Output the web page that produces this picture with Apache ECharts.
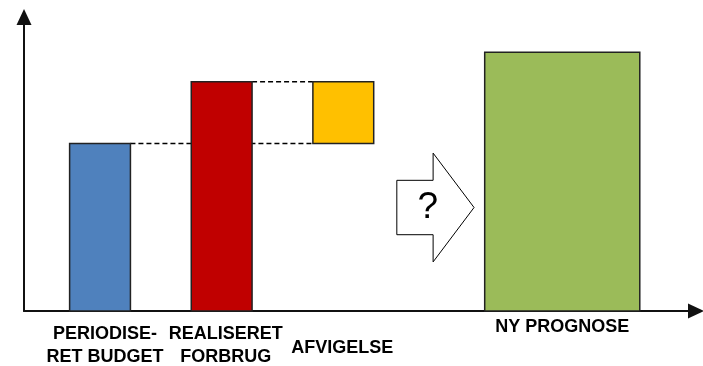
<!DOCTYPE html>
<html>
<head>
    <meta charset="utf-8">
    <script src="https://cdn.jsdelivr.net/npm/echarts@6/dist/echarts.min.js"></script>
</head>
<body style="margin:0">
    <div id="main" style="width:703px;height:366px;"></div>
    <script type="text/javascript">
        // data
        var categories = ['PERIODISE-\nRET BUDGET', 'REALISERET\nFORBRUG', 'AFVIGELSE', 'NY PROGNOSE'];
        var barCenter = [1.25, 3.25, 5.25, 8.85];
        var barWidth = [1, 1, 1, 2.55];
        var barLow = [0, 0, 57, 0];
        var barHigh = [57, 78, 78, 88];
        // dashed connectors: from bar -> to bar, at the "from" bar top
        var connFrom = [0, 1];
        var connTo = [2, 2];
        // "?" arrow: x start, x end, y low, y high
        var arrowBox = [6.13, 7.40, 16.7, 53.7];

        // style
        var barColors = ['#4F81BD', '#C00000', '#FFC000', '#9BBB59'];
        var labelDx = [5, 4, -1, 0];
        var labelDy = [35, 35, 37, 16];
        var font = 'Arial, "Liberation Sans", sans-serif';

        var myChart = echarts.init(document.getElementById('main'));

        var barData = [];
        for (var i = 0; i < categories.length; i++) {
            barData.push([barCenter[i], barWidth[i], barLow[i], barHigh[i]]);
        }
        var connData = [];
        for (var j = 0; j < connFrom.length; j++) {
            var a = connFrom[j], b = connTo[j];
            connData.push([barCenter[a] + barWidth[a] / 2, barCenter[b] - barWidth[b] / 2, barHigh[a]]);
        }

        function renderBar(params, api) {
            var i = params.dataIndex;
            var c = api.value(0), w = api.value(1);
            var p0 = api.coord([c - w / 2, api.value(3)]);
            var p1 = api.coord([c + w / 2, api.value(2)]);
            var base = api.coord([c, 0]);
            return {
                type: 'group',
                children: [{
                    type: 'rect',
                    shape: {x: p0[0], y: p0[1], width: p1[0] - p0[0], height: p1[1] - p0[1]},
                    style: {fill: barColors[i], stroke: '#222', lineWidth: 1.5}
                }, {
                    type: 'text',
                    x: base[0] + labelDx[i],
                    y: base[1] + labelDy[i],
                    style: {
                        text: categories[i],
                        align: 'center',
                        verticalAlign: 'middle',
                        font: 'bold 18px ' + font,
                        lineHeight: 23,
                        fill: '#000'
                    }
                }]
            };
        }

        function renderConn(params, api) {
            var p0 = api.coord([api.value(0), api.value(2)]);
            var p1 = api.coord([api.value(1), api.value(2)]);
            return {
                type: 'line',
                shape: {x1: p0[0], y1: p0[1], x2: p1[0], y2: p1[1]},
                style: {stroke: '#000', lineWidth: 1.5, lineDash: [5, 3]}
            };
        }

        function renderArrow(params, api) {
            var tl = api.coord([api.value(0), api.value(3)]);
            var br = api.coord([api.value(1), api.value(2)]);
            var x0 = tl[0], x1 = br[0], y0 = tl[1], y1 = br[1];
            var midY = (y0 + y1) / 2;
            var half = (y1 - y0) / 2;
            var bodyHalf = half * 0.5;
            var headX = x1 - (x1 - x0) * 0.53;
            return {
                type: 'group',
                children: [{
                    type: 'polygon',
                    shape: {points: [
                        [x0, midY - bodyHalf], [headX, midY - bodyHalf], [headX, y0],
                        [x1, midY], [headX, y1], [headX, midY + bodyHalf], [x0, midY + bodyHalf]
                    ]},
                    style: {fill: '#fff', stroke: '#000', lineWidth: 1}
                }, {
                    type: 'text',
                    x: x0 + (x1 - x0) * 0.4,
                    y: midY,
                    style: {text: '?', align: 'center', verticalAlign: 'middle', font: '37px ' + font, fill: '#000'}
                }]
            };
        }

        option = {
            backgroundColor: '#fff',
            animation: false,
            grid: {left: 24, right: 10, top: 17, bottom: 55},
            xAxis: {
                type: 'value', min: 0, max: 11,
                axisLine: {
                    show: true,
                    symbol: ['none', 'triangle'],
                    symbolSize: [15, 16],
                    symbolOffset: [0, 3],
                    lineStyle: {color: '#111', width: 2}
                },
                axisTick: {show: false}, axisLabel: {show: false}, splitLine: {show: false}
            },
            yAxis: {
                type: 'value', min: 0, max: 100,
                axisLine: {
                    show: true,
                    symbol: ['none', 'triangle'],
                    symbolSize: [15, 16],
                    lineStyle: {color: '#111', width: 2}
                },
                axisTick: {show: false}, axisLabel: {show: false}, splitLine: {show: false}
            },
            series: [
                {type: 'custom', renderItem: renderConn, data: connData, z: 1},
                {type: 'custom', renderItem: renderBar, data: barData, z: 2},
                {type: 'custom', renderItem: renderArrow, data: [arrowBox], z: 2}
            ]
        };

        myChart.setOption(option);
    </script>
</body>
</html>
